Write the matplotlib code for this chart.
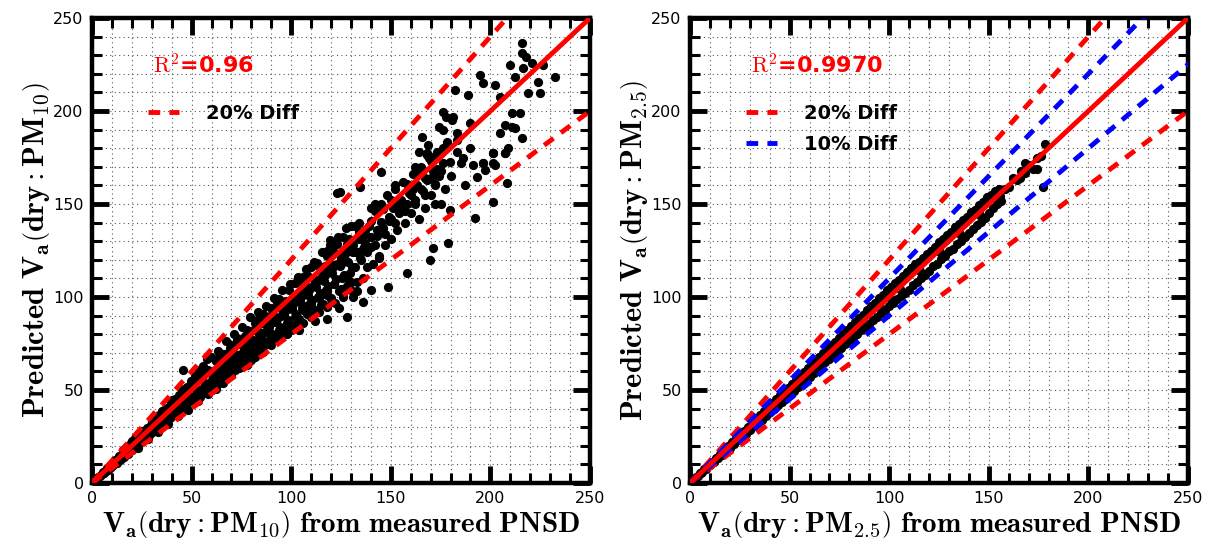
import numpy as np
import matplotlib
matplotlib.use("Agg")
import matplotlib.pyplot as plt
from matplotlib.ticker import MultipleLocator

plt.rcParams['mathtext.fontset'] = 'cm'
plt.rcParams['font.family'] = ['DejaVu Sans']

# --- data ---
# PM10 panel (measured vs predicted)
pm10_x = [
    1.5, 2.5, 3, 4, 5, 5.5, 6, 7, 7.5, 8,
    9, 9.5, 10, 11, 11.5, 12, 13, 13.5, 14, 15,
    15.5, 16, 17, 17.5, 18, 19, 19.5, 20, 21, 21.5,
    22, 23, 23.5, 24, 25, 25.5, 26, 27, 27.5, 28,
    29, 29.5, 30, 31, 31.5, 32, 33, 33.5, 34, 35,
    35.5, 36, 37, 37.5, 38, 39, 39.5, 40, 41, 41.5,
    42, 43, 43.5, 44, 45, 45.5, 46, 47, 47.5, 48,
    49, 49.5, 50, 51, 51.5, 52, 53, 53.5, 54, 55,
    55.5, 56, 57, 57.5, 58, 59, 59.5, 60, 61, 61.5,
    62, 63, 63.5, 64, 65, 65.5, 66, 67, 67.5, 68,
    69, 69.5, 70, 71, 71.5, 72, 73, 73.5, 74, 75,
    75.5, 76, 77, 77.5, 78, 79, 79.5, 80, 81, 81.5,
    82, 83, 83.5, 84, 85, 85.5, 86, 87, 87.5, 88,
    89, 89.5, 90, 91, 91.5, 92, 93, 93.5, 94, 95,
    95.5, 96, 97, 97.5, 98, 99, 99.5, 100, 101, 101.5,
    102, 103, 103.5, 104, 105, 105.5, 106, 107, 107.5, 108,
    109, 109.5, 110, 111, 111.5, 112, 113, 113.5, 114, 115,
    115.5, 116, 117, 117.5, 118, 119, 119.5, 120, 121, 121.5,
    122, 123, 123.5, 124, 125, 125.5, 126, 127, 127.5, 128,
    129, 129.5, 130, 131, 132, 133, 134, 135, 136, 137,
    60.5, 64.5, 68.5, 72.5, 76.5, 80.5, 84.5, 88.5, 92.5, 96.5,
    100.5, 104.5, 108.5, 112.5, 116.5, 120.5, 124.5, 128.5, 132.5, 136.5,
    62.5, 66.5, 70.5, 74.5, 78.5, 82.5, 86.5, 90.5, 94.5, 98.5,
    102.5, 106.5, 110.5, 114.5, 118.5, 122.5, 126.5, 130.5, 134.5, 138,
    118, 124, 127.8, 131, 136, 133, 140, 126, 112, 104,
    139, 140, 141, 142, 143, 144, 145, 146, 147, 148,
    149, 150, 151, 152, 153, 154, 155, 156, 157, 158,
    159, 160, 161, 162, 163, 164, 165, 166, 167, 168,
    169, 170, 171, 172, 173, 174, 175, 176, 177, 178,
    122.8, 148.7, 158.0, 169.7, 171.3, 178.9, 179.7, 192.3, 201.5, 208.2,
    193.1, 197.3, 196.4, 201.5, 168.0, 201.5, 207.3, 180.0, 185.0, 190.0,
    216.0, 215.7, 218.0, 220.7, 209.8, 216.5, 226.6, 232.4, 194.8, 196.4,
    202.3, 212.3, 224.0, 182.2, 188.9, 204.8, 219.0, 224.9, 176.3, 181.4,
    180.6, 210.7, 214.9, 176.3, 183.1, 189.8, 207.3, 210.7, 212.3, 204.8,
    215.7, 165.5, 168.8, 178.0, 183.1, 168.0, 173.8, 209.0, 207.3, 201.5,
    179.7, 186.4, 191.4, 196.4, 202.3, 175.0, 183.0, 187.0, 172.0, 164.0,
    40.5, 44.5, 48.5, 52.5, 56.5, 60, 64, 68, 72, 76,
    80, 84, 88, 92, 96, 100, 104, 108, 112, 116,
    42.5, 46.5, 50.5, 54.5, 58.5, 62, 66, 70, 74, 78,
    82, 86, 90, 94, 98, 102, 106, 110, 114, 118,
    30, 38, 46, 54, 62, 70, 78, 86, 94, 102,
    110, 118, 126, 134, 120, 112, 104, 96, 88, 80,
    124.6, 134.3, 145.0, 174.0, 177.8, 119.5, 130.0, 150.0, 160.0, 140.0,
    125, 128, 131, 134, 137, 140, 143, 146, 149, 152,
    155, 158, 161, 164, 167, 170, 173, 176, 138, 144,
    10.5, 14.5, 18.5, 22.5, 26.5, 30.5, 34.5, 38.5, 12.5, 24.5,
    44, 50, 56, 63, 70, 77, 84, 91, 98, 105,
    58, 66, 74, 82, 90, 99, 106, 113, 121, 129,
    60, 65, 70, 75, 80, 85, 90, 95, 100, 105,
    110, 115, 120, 125, 130, 68, 78, 88, 98, 108,
    118, 128, 97, 107, 117, 127, 137, 87, 77, 67,
    142, 147, 152, 157, 162, 167, 172, 145, 155, 165,
    135, 140, 150, 160, 170, 132, 142, 152, 162, 172,
    103, 113, 123, 93, 83, 73, 63, 53, 108, 118,
    20, 25, 30, 35, 40, 45, 50, 55, 28, 38,
    48, 58, 33, 43, 53, 23, 18, 36, 46, 56,
]
pm10_y = [
    1.6, 2.3, 3.2, 3.7, 4.8, 5.9, 5.4, 6.3, 7.9, 7.2,
    8.1, 9.9, 9.2, 10.1, 12.2, 10.6, 12.0, 14.5, 12.4, 13.8,
    17.8, 14.2, 15.6, 19.3, 16.0, 17.4, 21.5, 18.0, 19.2, 24.0,
    19.5, 21.0, 25.2, 21.8, 22.4, 27.6, 24.5, 24.2, 29.8, 25.0,
    26.5, 31.0, 27.2, 28.0, 34.8, 28.5, 30.2, 36.5, 29.8, 31.6,
    38.0, 33.0, 32.8, 40.5, 34.5, 35.0, 43.2, 36.2, 37.5, 45.0,
    38.0, 39.6, 47.5, 40.2, 39.8, 61.0, 44.5, 42.0, 51.5, 43.5,
    45.0, 55.0, 44.0, 46.8, 57.5, 47.5, 48.2, 60.5, 46.0, 50.5,
    63.0, 49.5, 52.0, 66.5, 50.5, 54.0, 68.0, 52.5, 55.0, 58.0,
    50.5, 58.5, 71.0, 54.0, 57.5, 64.0, 53.8, 61.5, 76.5, 57.0,
    63.0, 72.5, 58.5, 65.5, 80.0, 60.5, 67.0, 75.0, 62.0, 69.5,
    84.0, 64.5, 71.0, 78.5, 63.5, 73.0, 89.0, 68.0, 75.5, 82.5,
    67.5, 77.0, 92.0, 72.0, 79.5, 86.0, 70.5, 81.0, 95.0, 74.5,
    84.0, 90.0, 76.0, 86.5, 99.5, 79.0, 88.0, 94.5, 77.5, 90.0,
    104.0, 82.0, 92.5, 98.0, 80.0, 94.0, 107.0, 85.0, 96.5, 101.0,
    84.5, 98.0, 111.0, 88.0, 100.0, 94.0, 86.0, 102.0, 115.0, 91.0,
    104.0, 97.0, 89.0, 106.0, 119.0, 93.0, 108.5, 100.0, 92.0, 110.0,
    124.0, 96.5, 112.0, 104.0, 94.5, 114.0, 128.0, 99.0, 116.0, 107.0,
    97.0, 118.0, 132.0, 103.0, 121.0, 110.0, 100.0, 123.0, 137.0, 106.0,
    125.0, 113.0, 104.0, 128.0, 116.0, 108.0, 131.0, 120.0, 110.0, 134.0,
    57.0, 60.0, 63.5, 67.0, 71.5, 76.0, 78.5, 83.0, 86.5, 90.5,
    93.5, 97.5, 101.0, 105.5, 108.5, 113.0, 116.5, 119.0, 124.0, 127.0,
    55.0, 59.0, 62.0, 66.0, 69.0, 73.5, 76.5, 80.0, 84.0, 87.5,
    91.0, 95.0, 98.5, 102.0, 106.0, 109.5, 112.0, 116.0, 121.0, 124.0,
    88.0, 94.0, 89.4, 100.0, 97.5, 103.0, 104.0, 102.0, 87.0, 82.0,
    138.0, 127.0, 118.0, 146.0, 133.0, 122.0, 150.0, 137.0, 128.0, 155.0,
    141.0, 131.0, 148.0, 158.0, 136.0, 145.0, 152.0, 162.0, 140.0, 150.0,
    156.0, 145.0, 166.0, 152.0, 160.0, 142.0, 170.0, 157.0, 148.0, 163.0,
    175.0, 155.0, 168.0, 160.0, 178.0, 165.0, 150.0, 172.0, 158.0, 182.0,
    155.7, 105.5, 112.7, 119.9, 126.2, 128.9, 146.8, 142.3, 151.3, 161.1,
    164.7, 168.3, 171.9, 171.9, 176.3, 177.2, 177.2, 165.0, 172.0, 180.0,
    236.4, 231.0, 229.0, 225.6, 224.7, 223.0, 224.7, 218.4, 219.3, 214.9,
    214.0, 218.4, 215.8, 211.3, 208.6, 207.7, 209.5, 209.5, 199.6, 196.9,
    195.2, 198.8, 198.8, 189.8, 188.0, 193.4, 192.5, 191.6, 190.7, 188.0,
    185.3, 186.2, 181.7, 183.5, 184.4, 177.2, 177.2, 179.9, 177.2, 177.2,
    172.7, 174.5, 171.0, 171.9, 171.0, 168.0, 178.0, 160.0, 150.0, 178.0,
    39.0, 42.5, 46.0, 50.0, 54.0, 55.5, 61.5, 65.0, 69.5, 73.5,
    77.5, 81.0, 85.5, 89.0, 93.0, 97.0, 101.5, 105.0, 109.0, 113.0,
    37.0, 41.0, 44.5, 48.0, 51.5, 53.5, 57.0, 61.0, 64.5, 68.0,
    71.5, 75.0, 79.0, 82.5, 86.0, 89.5, 93.0, 96.0, 99.5, 103.0,
    31.5, 40.0, 48.5, 57.0, 65.5, 74.0, 82.5, 91.0, 99.0, 107.5,
    116.0, 124.5, 132.5, 140.0, 118.0, 108.5, 100.5, 92.5, 84.5, 76.5,
    156.6, 159.3, 167.4, 191.5, 197.0, 130.6, 138.0, 152.0, 158.0, 148.0,
    118.0, 128.5, 124.0, 135.0, 129.0, 141.0, 136.0, 147.5, 143.0, 151.0,
    146.0, 160.5, 158.0, 167.0, 164.0, 173.0, 169.0, 180.0, 116.0, 121.0,
    10.5, 13.0, 17.0, 21.0, 24.0, 29.0, 32.0, 37.0, 11.0, 23.0,
    46.5, 52.0, 58.5, 60.0, 67.0, 73.5, 80.0, 87.0, 93.5, 104.0,
    60.5, 69.5, 77.5, 86.0, 94.0, 104.0, 110.5, 117.0, 124.5, 131.0,
    50.0, 54.5, 58.0, 62.5, 66.0, 70.5, 74.0, 78.5, 82.0, 86.5,
    91.0, 95.5, 99.5, 104.5, 108.0, 59.5, 67.0, 75.5, 83.5, 92.5,
    101.0, 110.0, 97.0, 106.5, 116.5, 126.0, 136.0, 88.5, 79.0, 69.5,
    128.0, 134.0, 140.0, 146.0, 150.0, 155.0, 161.0, 140.5, 149.0, 158.0,
    125.0, 132.0, 142.0, 155.0, 164.0, 138.0, 150.0, 160.0, 170.0, 176.0,
    108.0, 118.5, 128.5, 97.5, 87.5, 77.0, 66.5, 56.0, 112.0, 122.0,
    22.5, 28.0, 33.5, 38.5, 44.5, 49.5, 55.0, 60.0, 23.5, 31.5,
    39.5, 48.0, 27.5, 36.0, 44.0, 19.0, 15.5, 39.0, 50.5, 61.5,
]

# PM2.5 panel
pm25_x = [
    1, 2, 3, 4, 5, 6, 7, 8, 9, 10,
    11, 12, 13, 14, 15, 16, 17, 18, 19, 20,
    21, 22, 23, 24, 25, 26, 27, 28, 29, 30,
    31, 32, 33, 34, 35, 36, 37, 38, 39, 40,
    41, 42, 43, 44, 45, 46, 47, 48, 49, 50,
    51, 52, 53, 54, 55, 56, 57, 58, 59, 60,
    61, 62, 63, 64, 65, 66, 67, 68, 69, 70,
    71, 72, 73, 74, 75, 76, 77, 78, 79, 80,
    81, 82, 83, 84, 85, 86, 87, 88, 89, 90,
    91, 92, 93, 94, 95, 96, 97, 98, 99, 100,
    101, 102, 103, 104, 105, 106, 107, 108, 109, 110,
    111, 112, 113, 114, 115, 116, 117, 118, 119, 120,
    121, 122, 123, 124, 125, 126, 127, 128, 129, 130,
    131, 132, 133, 134, 135, 136, 137, 138, 139, 140,
    141, 142, 143, 144, 145, 146, 147, 148, 149, 150,
    151, 152, 153, 154, 155, 156, 158, 160, 162, 164,
    166, 168, 170, 172, 174, 176, 177, 178, 174, 168,
    5.5, 15.5, 25.5, 35.5, 45.5, 55.5, 65.5, 75.5, 85.5, 95.5,
    105.5, 115.5, 125.5, 135.5, 145.5, 155.5, 165.5, 60.5, 80.5, 100.5,
]
pm25_y = [
    1.2, 1.9, 3.1, 3.8, 5.3, 5.7, 7.4, 7.6, 9.3, 9.6,
    11.5, 11.4, 13.6, 13.2, 15.8, 15.1, 17.9, 17.0, 19.8, 19.0,
    21.9, 20.8, 24.0, 22.9, 26.0, 24.8, 28.1, 26.5, 30.2, 28.6,
    32.5, 30.4, 34.6, 32.2, 36.8, 34.1, 38.9, 36.0, 40.9, 38.2,
    43.0, 40.0, 45.1, 42.0, 47.2, 43.8, 49.3, 45.9, 51.2, 47.8,
    53.3, 49.6, 55.4, 51.5, 57.6, 53.2, 59.5, 55.2, 61.8, 57.0,
    63.6, 59.2, 65.8, 61.0, 67.9, 63.0, 70.0, 65.0, 72.0, 66.8,
    74.2, 68.8, 76.0, 70.5, 78.2, 72.6, 80.3, 74.5, 82.4, 76.5,
    84.6, 78.0, 86.5, 80.2, 88.8, 82.0, 90.5, 84.0, 92.8, 85.5,
    95.0, 87.5, 97.0, 89.5, 99.2, 91.5, 101.0, 93.0, 103.5, 95.0,
    105.5, 97.0, 107.5, 99.0, 109.0, 100.5, 111.5, 102.0, 113.5, 104.0,
    115.5, 106.5, 117.5, 108.0, 119.0, 110.0, 121.0, 112.0, 123.0, 114.0,
    125.0, 116.5, 127.0, 118.0, 129.5, 120.5, 131.0, 122.0, 133.5, 124.5,
    135.0, 126.0, 137.5, 128.5, 139.0, 130.0, 141.5, 132.0, 143.0, 134.5,
    145.5, 136.5, 147.0, 138.5, 149.5, 140.5, 151.0, 142.5, 153.5, 145.0,
    155.0, 148.0, 157.0, 150.0, 158.0, 151.5, 158.0, 159.0, 164.0, 163.0,
    168.0, 166.5, 171.0, 169.0, 174.5, 176.0, 159.0, 182.0, 169.0, 172.0,
    5.4, 15.3, 25.1, 35.0, 45.0, 54.8, 64.5, 74.5, 84.5, 94.5,
    104.5, 114.0, 124.0, 134.0, 144.0, 154.5, 164.0, 60.0, 79.5, 99.5,
]

panels = [
    dict(x=pm10_x, y=pm10_y, r2="0.96", sub="10", bands=[(0.2, 'red', '20% Diff')]),
    dict(x=pm25_x, y=pm25_y, r2="0.9970", sub="2.5",
         bands=[(0.2, 'red', '20% Diff'), (0.1, 'blue', '10% Diff')]),
]

fig = plt.figure(figsize=(12.16, 5.54), dpi=100)
lefts = [92 / 1216, 690 / 1216]
line = np.array([0, 260])

for left, p in zip(lefts, panels):
    ax = fig.add_axes([left, 71 / 554, 498 / 1216, 465 / 554])
    ax.scatter(p['x'], p['y'], s=44, c='k', linewidths=0, zorder=2)

    handles = []
    for frac, col, lab in p['bands']:
        h, = ax.plot(line, (1 + frac) * line, color=col, lw=3.5,
                     dashes=(2.4, 1.9), zorder=3, label=lab)
        ax.plot(line, (1 - frac) * line, color=col, lw=3.5,
                dashes=(2.4, 1.9), zorder=3)
        handles.append(h)
    ax.plot(line, line, color='red', lw=3.5, zorder=4)

    ax.set_xlim(0, 250)
    ax.set_ylim(0, 250)
    ax.xaxis.set_major_locator(MultipleLocator(50))
    ax.yaxis.set_major_locator(MultipleLocator(50))
    ax.xaxis.set_minor_locator(MultipleLocator(10))
    ax.yaxis.set_minor_locator(MultipleLocator(10))
    ax.grid(which='both', color='0.35', linestyle=(0, (1, 3)), linewidth=0.8, zorder=0)
    ax.set_axisbelow(True)
    ax.tick_params(which='both', direction='in', top=True, right=True)
    ax.tick_params(which='major', length=12, width=3.5, labelsize=11.5, pad=6)
    ax.tick_params(which='minor', length=7, width=2.2)
    for s in ax.spines.values():
        s.set_linewidth(3.2)

    ax.set_xlabel(r"$\mathbf{V_a\left(dry:PM_{%s}\right)\ from\ measured\ PNSD}$" % p['sub'],
                  fontsize=21, labelpad=2)
    ax.set_ylabel(r"$\mathbf{Predicted\ V_a\left(dry:PM_{%s}\right)}$" % p['sub'],
                  fontsize=22, labelpad=0)

    ax.text(0.122, 0.899, r"$\mathrm{R^2}$=" + p['r2'], transform=ax.transAxes,
            color='red', fontsize=16, fontweight='bold', ha='left', va='center')
    ax.legend(handles=handles, loc='upper left', bbox_to_anchor=(0.112, 0.815),
              frameon=False, handlelength=1.6, handletextpad=1.4,
              labelspacing=0.6, borderaxespad=0, borderpad=0,
              prop={'weight': 'bold', 'size': 14})

fig.savefig("out.png", dpi=100)
